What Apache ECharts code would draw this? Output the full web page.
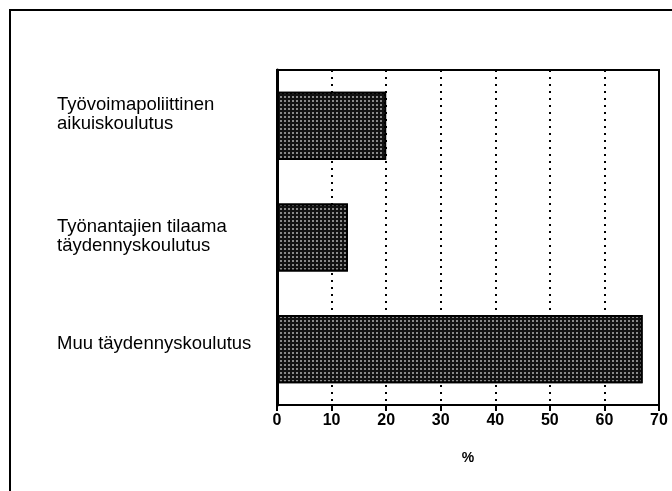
<!DOCTYPE html>
<html>
<head>
<meta charset="utf-8">
<script src="https://cdn.jsdelivr.net/npm/echarts@6/dist/echarts.min.js"></script>
<style>
html, body { margin: 0; padding: 0; background: #fff; }
#chart { width: 672px; height: 491px; }
</style>
</head>
<body>
<div id="chart"></div>
<script>
// categories, top to bottom
const categories = [
  'Työvoimapoliittinen\naikuiskoulutus',
  'Työnantajien tilaama\ntäydennyskoulutus',
  'Muu täydennyskoulutus'
];
// share, %
const shares = [20, 13, 67];
const xTicks = [0, 10, 20, 30, 40, 50, 60, 70];

// small upward nudges so the labels sit like in the print
const labelLift = [11, 1, 5];

let myChart = echarts.init(document.getElementById('chart'));
let option = {
  animation: false,
  backgroundColor: '#fff',
  textStyle: { fontFamily: 'Liberation Sans, Arial, sans-serif', color: '#000' },
  graphic: [{
    type: 'rect',
    shape: { x: 10, y: 10, width: 700, height: 520 },
    style: { fill: 'none', stroke: '#000', lineWidth: 2 },
    silent: true
  }],
  grid: {
    left: 277, right: 13, top: 70, bottom: 86,
    outerBoundsMode: 'none',
    containLabel: false,
    show: true, borderColor: '#000', borderWidth: 2
  },
  xAxis: {
    type: 'value',
    min: xTicks[0],
    max: xTicks[xTicks.length - 1],
    interval: 10,
    name: '%',
    nameLocation: 'middle',
    nameGap: 46,
    nameTextStyle: { fontSize: 14, fontWeight: 'bold', color: '#000' },
    axisLine: { show: true, lineStyle: { color: '#000', width: 2 } },
    axisTick: { show: true, length: 6, lineStyle: { color: '#000', width: 2 } },
    axisLabel: { color: '#000', fontSize: 16, fontWeight: 'bold', margin: 8 },
    splitLine: { show: true, lineStyle: { color: '#000', width: 2, type: [2, 5] } }
  },
  yAxis: {
    type: 'category',
    inverse: true,
    data: categories.map((c, i) => ({
      value: c,
      textStyle: { padding: [0, 0, labelLift[i] * 2, 0] }
    })),
    axisLine: { show: true, lineStyle: { color: '#000', width: 3 } },
    axisTick: { show: false },
    axisLabel: {
      margin: 5,
      formatter: v => v.split('\n').map(s => '{a|' + s + '}').join('\n'),
      rich: {
        a: { color: '#000', fontSize: 18.5, lineHeight: 19, width: 215, align: 'left',
             fontFamily: 'Liberation Sans, Arial, sans-serif' }
      }
    },
    splitLine: { show: false }
  },
  series: [{
    type: 'bar',
    data: shares,
    barCategoryGap: '39%',
    itemStyle: {
      color: '#111',
      borderColor: '#000',
      borderWidth: 2,
      decal: {
        symbol: 'rect',
        symbolSize: 1,
        color: 'rgba(255,255,255,0.5)',
        dashArrayX: [2, 2],
        dashArrayY: [2, 2],
        rotation: 0
      }
    }
  }]
};
option && myChart.setOption(option);
</script>
</body>
</html>
